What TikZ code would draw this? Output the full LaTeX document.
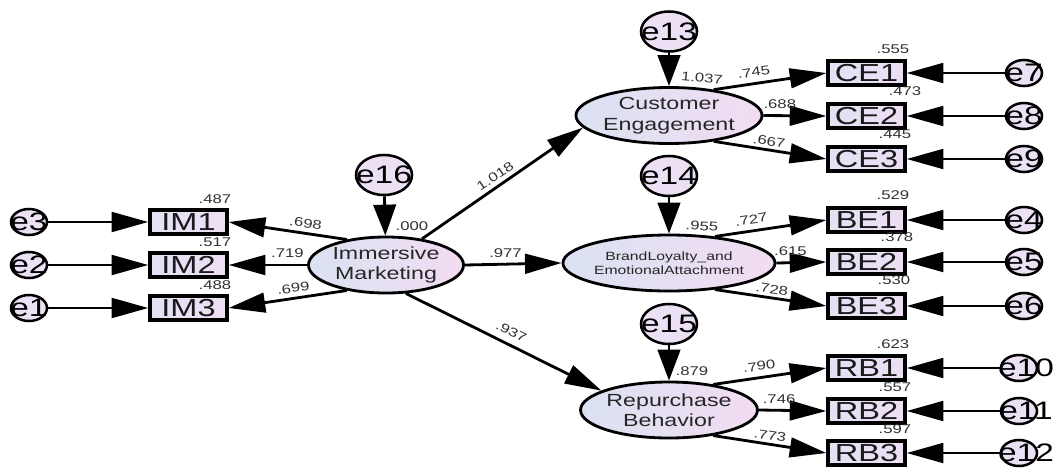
\documentclass[tikz,border=0pt]{standalone}
\usepackage{fontspec}
\setmainfont[FakeStretch=1.32]{Liberation Sans}
\usetikzlibrary{arrows.meta,shapes.geometric}

\definecolor{latL}{RGB}{218,226,242}
\definecolor{latR}{RGB}{242,220,242}
\definecolor{obsL}{RGB}{226,226,244}
\definecolor{obsR}{RGB}{238,222,244}
\definecolor{errfill}{RGB}{236,224,244}
\definecolor{numgray}{RGB}{50,50,50}

\begin{document}
\begin{tikzpicture}[x=0.025cm, y=-0.025cm,
    >={Triangle[length=26pt,width=14pt]},
    lat/.style={ellipse, draw, line width=2pt, inner sep=0pt,
                minimum width=3.875cm, minimum height=1.4cm,
                left color=latL, right color=latR, align=center,
                text=black!85, font=\fontsize{12.5}{14.5}\selectfont},
    obs/.style={rectangle, draw, line width=2.4pt, inner sep=0pt,
                minimum width=1.925cm, minimum height=0.6cm,
                left color=obsL, right color=obsR, text=black!90,
                font=\fontsize{17.5}{17.5}\selectfont},
    err/.style={ellipse, draw, line width=1.8pt, inner sep=0pt,
                minimum width=0.9cm, minimum height=0.65cm, fill=errfill,
                font=\fontsize{18}{18}\selectfont},
    dist/.style={err, minimum width=1.4cm, minimum height=1cm},
    coef/.style={inner sep=1pt, text=numgray,
                 font=\fontsize{9}{10}\selectfont},
    reg/.style={->, line width=2pt},
    dreg/.style={-{Triangle[length=22pt,width=16pt]}, line width=2pt}]
  \useasboundingbox (0,0) rectangle (1055,470);

  % latent variables
  \node[lat] (IM) at (386,265) {Immersive\\Marketing};
  \node[lat] (CE) at (669,115.5) {Customer\\Engagement};
  \node[lat, font=\fontsize{8.5}{10}\selectfont] (BE) at (669,263)
       {BrandLoyalty\_and\\EmotionalAttachment};
  \node[lat] (RB) at (669,410) {Repurchase\\Behavior};

  % indicators
  \node[obs] (IM1) at (188.5,222) {IM1};
  \node[obs] (IM2) at (188.5,265) {IM2};
  \node[obs] (IM3) at (188.5,308) {IM3};
  \node[obs] (CE1) at (866.5,73)  {CE1};
  \node[obs] (CE2) at (866.5,116) {CE2};
  \node[obs] (CE3) at (866.5,159) {CE3};
  \node[obs] (BE1) at (866.5,220) {BE1};
  \node[obs] (BE2) at (866.5,262) {BE2};
  \node[obs] (BE3) at (866.5,306) {BE3};
  \node[obs] (RB1) at (866.5,368) {RB1};
  \node[obs] (RB2) at (866.5,411) {RB2};
  \node[obs] (RB3) at (866.5,453) {RB3};

  % error terms
  \node[err] (e3)  at (29,222)   {\makebox[0pt]{e3}};
  \node[err] (e2)  at (29,265)   {\makebox[0pt]{e2}};
  \node[err] (e1)  at (29,308)   {\makebox[0pt]{e1}};
  \node[err] (e7)  at (1024,73)  {\makebox[0pt]{e7}};
  \node[err] (e8)  at (1024,116) {\makebox[0pt]{e8}};
  \node[err] (e9)  at (1024,159) {\makebox[0pt]{e9}};
  \node[err] (e4)  at (1024,220) {\makebox[0pt]{e4}};
  \node[err] (e5)  at (1024,262) {\makebox[0pt]{e5}};
  \node[err] (e6)  at (1024,306) {\makebox[0pt]{e6}};
  \node[err] (e10) at (1019,368) {\makebox[0pt]{\hspace*{10pt}e10}};
  \node[err] (e11) at (1019,411) {\makebox[0pt]{\hspace*{10pt}e11}};
  \node[err] (e12) at (1019,453) {\makebox[0pt]{\hspace*{10pt}e12}};
  \node[dist] (e16) at (384,175)  {\makebox[0pt]{e16}};
  \node[dist] (e13) at (669,31.5) {\makebox[0pt]{e13}};
  \node[dist] (e14) at (669,176)  {\makebox[0pt]{e14}};
  \node[dist] (e15) at (669,324)  {\makebox[0pt]{e15}};

  % squared multiple correlations
  \node[coef] (rIM1) at (215,199) {.487};
  \node[coef] (rIM2) at (215,242) {.517};
  \node[coef] (rIM3) at (215,285) {.488};
  \node[coef] (rIM)  at (412,226) {.000};
  \node[coef, rotate=-5] (rCE) at (702,78)  {1.037};
  \node[coef, rotate=-4] (rBE) at (702,226) {.955};
  \node[coef] (rRB)  at (692,371) {.879};
  \node[coef] (rCE1) at (893,49)  {.555};
  \node[coef] (rCE2) at (905,91)  {.473};
  \node[coef] (rCE3) at (895,134) {.445};
  \node[coef] (rBE1) at (893,195) {.529};
  \node[coef] (rBE2) at (897,237) {.378};
  \node[coef] (rBE3) at (894,280) {.530};
  \node[coef] (rRB1) at (893,344) {.623};
  \node[coef] (rRB2) at (895,387) {.557};
  \node[coef] (rRB3) at (895,429) {.597};

  % residuals into indicators
  \draw[reg] (e3) -- (IM1);
  \draw[reg] (e2) -- (IM2);
  \draw[reg] (e1) -- (IM3);
  \draw[reg] (e7) -- (CE1);
  \draw[reg] (e8) -- (CE2);
  \draw[reg] (e9) -- (CE3);
  \draw[reg] (e4) -- (BE1);
  \draw[reg] (e5) -- (BE2);
  \draw[reg] (e6) -- (BE3);
  \draw[reg] (e10) -- (RB1);
  \draw[reg] (e11) -- (RB2);
  \draw[reg] (e12) -- (RB3);

  % disturbances
  \draw[dreg] (e16) -- (IM);
  \draw[dreg] (e13) -- (CE);
  \draw[dreg] (e14) -- (BE);
  \draw[dreg] (e15) -- (RB);

  % loadings
  \draw[reg] (IM.147) -- node[coef, sloped, above=2pt, pos=.36] {.698} (IM1.east);
  \draw[reg] (IM.west) -- node[coef, above=3pt, pos=.25] {.719} (IM2.east);
  \draw[reg] (IM.213) -- node[coef, sloped, above=2pt, pos=.44] {.699} (IM3.east);
  \draw[reg] (CE.30)  -- node[coef, sloped, above=3pt, pos=.37] {.745} (CE1.west);
  \draw[reg] (CE.east) -- node[coef, above=3pt, pos=.26] {.688} (CE2.west);
  \draw[reg] (CE.-30) -- node[coef, sloped, above=1pt, pos=.48] {.667} (CE3.west);
  \draw[reg] (BE.30)  -- node[coef, sloped, above=3pt, pos=.34] {.727} (BE1.west);
  \draw[reg] (BE.east) -- node[coef, above=3pt, pos=.28] {.615} (BE2.west);
  \draw[reg] (BE.-30) -- node[coef, sloped, above=1pt, pos=.50] {.728} (BE3.west);
  \draw[reg] (RB.30)  -- node[coef, sloped, above=3pt, pos=.42] {.790} (RB1.west);
  \draw[reg] (RB.east) -- node[coef, above=3pt, pos=.30] {.746} (RB2.west);
  \draw[reg] (RB.-30) -- node[coef, sloped, above=1pt, pos=.49] {.773} (RB3.west);

  % structural paths
  \draw[reg] (IM.36)  -- node[coef, sloped, above=2pt, pos=.49] {1.018} (CE.188);
  \draw[reg] (IM.east) -- node[coef, above=3pt, pos=.42] {.977} (BE.west);
  \draw[reg] (IM.-55) -- node[coef, sloped, above=4pt, pos=.51] {.937} (RB.164);
\end{tikzpicture}
\end{document}
